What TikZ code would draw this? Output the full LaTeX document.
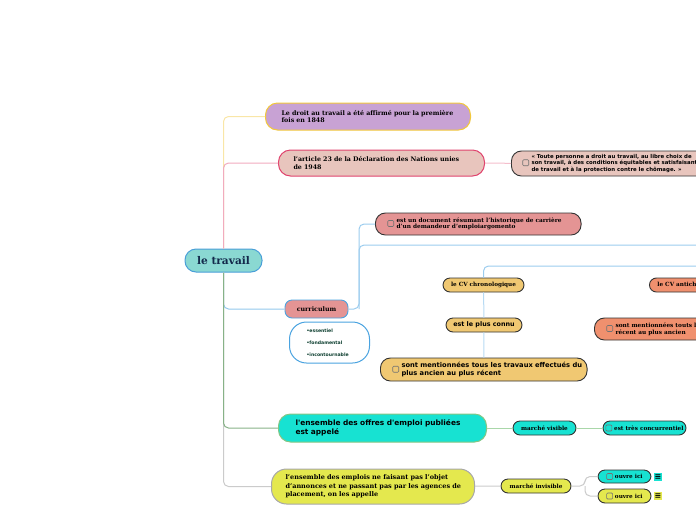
\documentclass[tikz,border=0pt]{standalone}
\usepackage{fontspec}
\setmainfont{DejaVu Serif}
\newfontfamily\verd{DejaVu Sans}
\usepackage{xcolor}
\usepackage{tikz}
\usetikzlibrary{positioning}

\definecolor{rootfill}{HTML}{8AD8D2}
\definecolor{rootline}{HTML}{4A9FD8}
\definecolor{rootink}{HTML}{13294B}
\definecolor{lilac}{HTML}{C8A2D4}
\definecolor{gold}{HTML}{F2C83C}
\definecolor{rose}{HTML}{E8C5BD}
\definecolor{crimson}{HTML}{E0446E}
\definecolor{coral}{HTML}{E49494}
\definecolor{sky}{HTML}{4AA3E0}
\definecolor{sand}{HTML}{F0C872}
\definecolor{peach}{HTML}{F0906E}
\definecolor{aqua}{HTML}{17E2D2}
\definecolor{leaf}{HTML}{84C684}
\definecolor{lime}{HTML}{E4E84E}
\definecolor{ash}{HTML}{A8A8A8}
\definecolor{pine}{HTML}{0B3D2E}

\newcommand{\cbox}{\tikz[baseline=1pt]\draw[rounded corners=1pt, line width=0.6pt, draw=black!55]
  (0pt,0pt) rectangle (6pt,6pt);}
\newcommand{\chk}[3]{\hspace*{#1}\cbox\hspace{2.5pt}\parbox[c]{#2}{\raggedright #3}}

\tikzset{
    rootbox/.style={rectangle, rounded corners=11pt, draw=rootline, fill=rootfill,
                    line width=1pt, minimum width=77pt, minimum height=23pt,
                    text=rootink, font=\bfseries\fontsize{10.6}{13}\selectfont},
    mbox/.style={rectangle, rounded corners=12pt, line width=1pt, anchor=west,
                 align=left, inner ysep=0pt},
    sbox/.style={rectangle, rounded corners=7pt, draw=black!80, line width=0.9pt,
                 inner sep=0pt, font=\bfseries\fontsize{5.7}{6}\selectfont},
    tbox/.style={rectangle, rounded corners=10pt, draw=black!80, line width=0.9pt,
                 anchor=west, inner ysep=0pt, inner xsep=5pt},
    note/.style={rectangle, inner sep=0pt, minimum size=8pt,
                 font=\verd\bfseries\fontsize{8}{8}\selectfont},
    lnk/.style={line width=1pt, rounded corners=5pt}
}

\begin{document}
\begin{tikzpicture}[x=1pt, y=-1pt]
\useasboundingbox (0,0) rectangle (696,520);
\clip (0,0) rectangle (696,520);

% ── Root ──────────────────────────────────────────────────────────────
\node[rootbox] at (223.5,260.5) (root) {le travail};

% ── Main branches ─────────────────────────────────────────────────────
\node[mbox, fill=lilac, draw=gold, minimum height=27pt, inner xsep=16pt, text width=173pt,
      font=\bfseries\fontsize{6.3}{7.4}\selectfont] at (265,116.5) (droit)
      {\mbox{Le droit au travail a été affirmé pour la première}\\fois en 1848};
\node[mbox, fill=rose, draw=crimson, minimum height=26pt, inner xsep=15pt, text width=176pt,
      font=\bfseries\fontsize{6.3}{7.4}\selectfont] at (278,163) (article)
      {\mbox{l'article 23 de la Déclaration des Nations unies}\\de 1948};
\node[sbox, fill=coral, draw=sky, minimum width=63pt, minimum height=18pt,
      font=\bfseries\fontsize{6.3}{7}\selectfont] at (316.5,309) (curric) {curriculum};
\node[mbox, fill=white, draw=sky, rounded corners=17pt, minimum height=41pt,
      inner xsep=17pt, text width=46pt, text=pine,
      font=\verd\bfseries\fontsize{4.6}{12}\selectfont] at (289,342.5) (traits)
      {•essentiel\\•fondamental\\\mbox{•incontournable}};
\node[mbox, fill=aqua, draw=leaf, minimum height=28pt, inner xsep=17pt, text width=174pt,
      font=\verd\bfseries\fontsize{7.4}{8.6}\selectfont] at (278,428) (offres)
      {\mbox{l'ensemble des offres d'emploi publiées}\\est appelé};
\node[mbox, fill=lime, draw=ash, rounded corners=15pt, minimum height=35pt, inner xsep=14pt,
      text width=175pt, font=\bfseries\fontsize{6.5}{8.4}\selectfont] at (271,486.5) (emplois)
      {\mbox{l'ensemble des emplois ne faisant pas l'objet}\\\mbox{d'annonces et ne passant pas par les agences de}\\placement, on les appelle};

% ── Article 23 ────────────────────────────────────────────────────────
\node[tbox, fill=rose, minimum height=25pt,
      font=\verd\bfseries\fontsize{5.4}{6.6}\selectfont] at (511,163.5) (quote)
      {\chk{6pt}{220pt}{\mbox{« Toute personne a droit au travail, au libre choix de}\\\mbox{son travail, à des conditions équitables et satisfaisantes}\\\mbox{de travail et à la protection contre le chômage. »}}};

% ── Curriculum ────────────────────────────────────────────────────────
\node[tbox, fill=coral, minimum height=22pt,
      font=\bfseries\fontsize{5.8}{6.6}\selectfont] at (375,224) (docu)
      {\chk{7pt}{179.5pt}{\mbox{est un document résumant l'historique de carrière}\\\mbox{d'un demandeur d'emploiargomento}}};
\coordinate (cj)   at (359,309);
\coordinate (hub)  at (710,245);
\coordinate (kinds) at (710,266);

\node[sbox, fill=sand, minimum width=81pt, minimum height=14pt] at (483.5,285) (chrono)
      {le CV chronologique};
\node[sbox, fill=sand, minimum width=76pt, minimum height=14pt,
      font=\verd\bfseries\fontsize{6.4}{6.5}\selectfont] at (484,325) (connu) {est le plus connu};
\node[tbox, fill=sand, minimum height=23pt,
      font=\verd\bfseries\fontsize{6.7}{8}\selectfont] at (380,369.5) (ancien)
      {\chk{7pt}{180.5pt}{\mbox{sont mentionnées tous les travaux effectués du}\\\mbox{plus ancien au plus récent}}};

\node[sbox, fill=peach, anchor=west, inner xsep=8pt, minimum height=14pt] at (649,285) (antich)
      {le CV antichronologique};
\node[tbox, fill=peach, minimum height=22pt,
      font=\bfseries\fontsize{5.8}{6.6}\selectfont] at (594,329) (recent)
      {\chk{7pt}{184pt}{\mbox{sont mentionnées touts les travaux effectués du plus}\\\mbox{récent au plus ancien}}};

% ── Marchés ───────────────────────────────────────────────────────────
\node[sbox, fill=aqua, minimum width=63pt, minimum height=14pt] at (544.5,428) (visible)
      {marché visible};
\node[sbox, fill=aqua, minimum width=83pt, minimum height=14pt] at (644.5,428) (concur)
      {\cbox\hspace{2pt}est très concurrentiel};

\node[sbox, fill=lime, minimum width=70pt, minimum height=14pt] at (536,486) (invis)
      {marché invisible};
\coordinate (ij) at (585,486);
\node[sbox, fill=aqua, minimum width=53pt, minimum height=13pt] at (624.5,476.5) (ouvreA)
      {\cbox\hspace{2pt}ouvre ici};
\node[sbox, fill=lime, minimum width=53pt, minimum height=14pt] at (624.5,496) (ouvreB)
      {\cbox\hspace{2pt}ouvre ici};
\node[note, fill=aqua] at (658,477) (noteA) {≡};
\node[note, fill=lime] at (658,496) (noteB) {≡};

% ── Connectors from the root ──────────────────────────────────────────
\draw[lnk, draw=gold!45] (root.north) |- (droit);
\draw[lnk, draw=crimson!45] (root.north) |- (article);
\draw[lnk, draw=sky!60] (root.south) |- (curric);
\draw[lnk, draw=ash!60] (root.south) |- (emplois);
\draw[lnk, draw=leaf!80!black!80] (root.south) |- (offres);

% ── Other connectors ──────────────────────────────────────────────────
\draw[lnk, draw=crimson!35] (article) -- (quote);
\draw[lnk, draw=sky!55] (curric) -- (cj) |- (docu);
\draw[lnk, draw=sky!55] (cj) |- (hub);
\draw[lnk, draw=sky!55] (kinds) -| (chrono);
\draw[lnk, draw=sky!40] (chrono) -- (connu);
\draw[lnk, draw=sky!40] (connu) -- (ancien);
\draw[lnk, draw=leaf!70] (offres) -- (visible);
\draw[lnk, draw=leaf!70] (visible) -- (concur);
\draw[lnk, draw=ash!60] (emplois) -- (invis);
\draw[lnk, draw=ash!60] (invis) -- (ij) |- (ouvreA);
\draw[lnk, draw=ash!60] (ij) |- (ouvreB);
\end{tikzpicture}
\end{document}
